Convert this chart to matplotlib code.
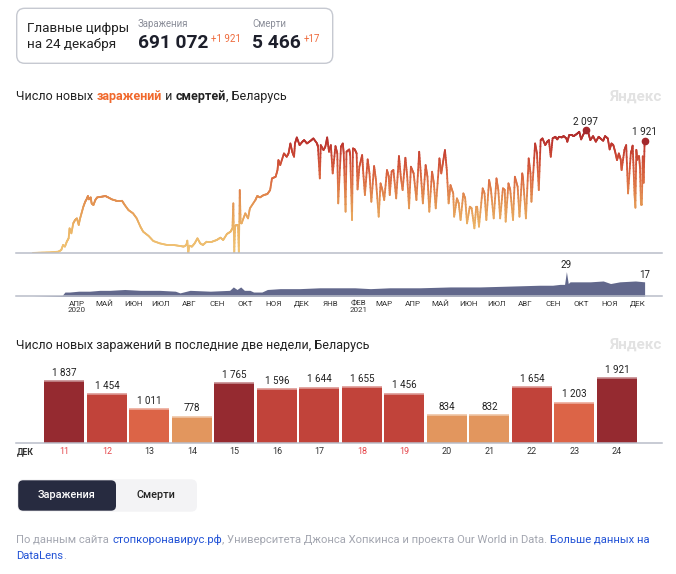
import numpy as np
import matplotlib
matplotlib.use('Agg')
import matplotlib.pyplot as plt
from matplotlib.collections import LineCollection
from matplotlib.colors import LinearSegmentedColormap, Normalize, to_rgb
from matplotlib.patches import FancyBboxPatch

plt.rcParams['font.family'] = ['Roboto', 'DejaVu Sans']

# new cases per day, read at the peaks and troughs; day 0 = 2020-02-28
case_day = [
    0, 8, 19, 28, 31, 33, 35, 37, 39, 40, 42, 44, 46, 48, 50, 51, 53, 55, 57, 59,
    60, 61, 63, 64, 66, 68, 70, 75, 79, 82, 86, 91, 97, 100, 104, 109, 113, 117, 120, 126,
    131, 138, 146, 153, 160, 164, 167, 168, 169, 170, 173, 176, 179, 182, 185, 189, 195, 200, 204, 207,
    211, 215, 217, 218, 219, 220, 222, 223, 224, 225, 226, 227, 231, 234, 236, 242, 244, 247, 251, 255,
    258, 260, 264, 266, 267, 269, 273, 276, 278, 280, 282, 284, 285, 287, 290, 293, 295, 298, 302, 305,
    309, 310, 312, 313, 316, 318, 320, 322, 324, 326, 329, 331, 332, 335, 337, 338, 340, 341, 344, 345,
    347, 348, 350, 352, 353, 355, 358, 359, 361, 364, 366, 368, 371, 373, 376, 378, 380, 382, 385, 387,
    388, 390, 392, 395, 398, 400, 402, 405, 407, 409, 411, 414, 417, 420, 422, 424, 427, 429, 431, 434,
    436, 438, 442, 444, 446, 448, 450, 452, 454, 457, 458, 461, 463, 465, 468, 470, 472, 475, 477, 480,
    482, 483, 485, 489, 491, 493, 496, 498, 501, 504, 506, 508, 511, 513, 514, 517, 519, 522, 524, 527,
    529, 532, 533, 536, 539, 541, 542, 546, 548, 550, 552, 554, 557, 559, 561, 563, 565, 568, 570, 572,
    575, 577, 580, 581, 583, 586, 588, 591, 594, 596, 598, 601, 604, 606, 609, 612, 615, 617, 620, 622,
    625, 627, 629, 631, 633, 635, 637, 639, 640, 643, 645, 647, 650, 651, 652, 653, 654, 655, 656, 657,
    658, 659, 660, 661, 662, 663, 664, 665]
case_val = [
    6, 11, 17, 28, 57, 142, 114, 199, 256, 426, 341, 511, 568, 596, 483, 568, 682, 795, 880, 937,
    977, 920, 954, 852, 824, 909, 954, 966, 977, 954, 920, 897, 897, 824, 738, 682, 596, 454, 369, 295,
    210, 170, 142, 142, 125, 114, 142, 216, 0, 130, 114, 170, 256, 170, 142, 199, 199, 227, 267, 227,
    329, 369, 426, 852, 0, 470, 483, 483, 0, 1079, 520, 511, 682, 596, 767, 909, 977, 954, 994, 1011,
    1079, 1278, 1306, 1420, 1590, 1505, 1704, 1647, 1704, 1874, 1732, 1647, 1874, 1977, 1846, 1903, 1931, 1874, 1920, 1960,
    1874, 1818, 1278, 1846, 1761, 1818, 1977, 1732, 1846, 1363, 1829, 1704, 852, 1818, 1874, 1704, 710, 1732, 1772, 1676,
    568, 1789, 1772, 1704, 1090, 1477, 1676, 1420, 994, 1602, 1363, 880, 1488, 1250, 625, 1193, 1079, 909, 1420, 1306,
    994, 1392, 1420, 937, 1659, 1306, 1079, 1630, 1306, 767, 1477, 1363, 909, 1732, 1306, 852, 1505, 1306, 710, 1392,
    1193, 767, 1619, 1363, 1562, 1761, 1420, 852, 1164, 1022, 625, 937, 852, 568, 1022, 937, 511, 795, 767, 426,
    795, 795, 454, 1108, 1022, 568, 1250, 1079, 596, 1278, 1079, 596, 1108, 1079, 540, 1193, 1079, 568, 1306, 1136,
    625, 1363, 1250, 596, 1619, 1363, 880, 1874, 1704, 1079, 1931, 1960, 1846, 1903, 1931, 1647, 1960, 1988, 1943, 1988,
    1977, 2000, 1960, 1903, 2016, 2016, 2000, 2033, 2073, 1943, 2016, 2097, 2045, 1931, 2000, 1903, 1988, 1960, 1920, 2000,
    1960, 1772, 1874, 1846, 1732, 1590, 1704, 1602, 1420, 1761, 1846, 1022, 1704, 1760, 1837, 1454, 1011, 778, 1765, 1596,
    1644, 1655, 1456, 834, 832, 1654, 1203, 1921]

# deaths per day
death_day = [0, 32, 35, 40, 50, 62, 73, 84, 100, 117, 138, 155, 160, 171, 193, 214, 218, 222, 226,
             230, 236, 240, 249, 255, 269, 290, 312, 334, 350, 367, 388, 421, 454, 486, 519, 551, 565,
             573, 578, 580, 582, 584, 606, 620, 628, 638, 655, 665]
death_val = [0, 1, 5, 5, 6, 6, 7, 7, 8, 7, 7, 6, 4, 7, 6, 7, 11, 8, 11,
             7, 7, 5, 5, 8, 9, 9, 10, 10, 10, 9, 10, 10, 11, 11, 12, 13, 13,
             14, 14, 29, 15, 17, 17, 18, 15, 17, 18, 17]

month_names = ['АПР', 'МАЙ', 'ИЮН', 'ИЮЛ', 'АВГ', 'СЕН', 'ОКТ', 'НОЯ', 'ДЕК', 'ЯНВ', 'ФЕВ',
               'МАР', 'АПР', 'МАЙ', 'ИЮН', 'ИЮЛ', 'АВГ', 'СЕН', 'ОКТ', 'НОЯ', 'ДЕК']
year_marks = {0: '2020', 10: '2021'}

bar_days = ['11', '12', '13', '14', '15', '16', '17', '18', '19', '20', '21', '22', '23', '24']
bar_vals = [1837, 1454, 1011, 778, 1765, 1596, 1644, 1655, 1456, 834, 832, 1654, 1203, 1921]
weekend = ['11', '12', '18', '19']

W, H = 676, 574
fig = plt.figure(figsize=(W / 100, H / 100), dpi=100)


def ax_at(x0, y0, x1, y1):
    return fig.add_axes([x0 / W, 1 - y1 / H, (x1 - x0) / W, (y1 - y0) / H])


def fmt(v):
    return f'{v:,}'.replace(',', ' ')


bg = fig.add_axes([0, 0, 1, 1], zorder=-1)
bg.set_xlim(0, W)
bg.set_ylim(H, 0)
bg.axis('off')
renderer = fig.canvas.get_renderer()


def runs(x, y, parts, size):
    for s, color, weight in parts:
        t = bg.text(x, y, s, color=color, fontweight=weight, fontsize=size,
                    va='center', ha='left')
        x += t.get_window_extent(renderer=renderer).width
    return x


DARK = '#222222'
GRID = '#b9bdc9'
XMIN, XMAX = -18.2, 683.9

# header card
bg.add_patch(FancyBboxPatch((16.7, 8.3), 316, 55, boxstyle='round,pad=0,rounding_size=8',
                            fc='white', ec='#c6c9d1', lw=1))
bg.text(27.3, 28.3, 'Главные цифры', fontsize=9.7, color=DARK, va='center')
bg.text(27.3, 44.3, 'на 24 декабря', fontsize=9.7, color=DARK, va='center')
bg.text(137.7, 24.0, 'Заражения', fontsize=6.9, color='#8b8e99', va='center')
bg.text(252.3, 24.0, 'Смерти', fontsize=6.9, color='#8b8e99', va='center')
x = runs(137.7, 43.0, [('691 072', '#1d1f2b', 'bold')], 13.8)
runs(x + 3, 39.0, [('+1 921', '#ee6a3c', 'normal')], 7.0)
x = runs(252.3, 43.0, [('5 466', '#1d1f2b', 'bold')], 13.8)
runs(x + 3, 39.0, [('+17', '#ee6a3c', 'normal')], 7.0)

# titles
runs(16.5, 96.7, [('Число новых ', DARK, 'normal'), ('заражений', '#f0692d', 'bold'),
                  (' и ', DARK, 'normal'), ('смертей', DARK, 'bold'),
                  (', Беларусь', DARK, 'normal')], 9.0)
bg.text(662, 96.7, 'Яндекс', fontsize=11, fontweight='bold', color='#e2e2e2', ha='right', va='center')
runs(16.5, 345, [('Число новых заражений в последние две недели, Беларусь', DARK, 'normal')], 9.0)
bg.text(662, 345, 'Яндекс', fontsize=11, fontweight='bold', color='#e2e2e2', ha='right', va='center')

# cases line with colour following the value
ax = ax_at(16, 110, 662, 253.3)
ax.set_xlim(XMIN, XMAX)
ax.set_ylim(0, 2445)
cmap = LinearSegmentedColormap.from_list('cases', [
    (0.0, '#f0c476'), (0.2, '#ecb566'), (0.42, '#e39352'), (0.6, '#dc6d43'),
    (0.75, '#cf4f37'), (0.9, '#be362e'), (1.0, '#ac2a2b')])
norm = Normalize(0, 2100)
xs = np.array(case_day, float)
ys = np.array(case_val, float)
t = np.linspace(0, 1, 9)
segs, cv = [], []
for i in range(len(xs) - 1):
    px = xs[i] + (xs[i + 1] - xs[i]) * t
    py = ys[i] + (ys[i + 1] - ys[i]) * t
    for k in range(len(t) - 1):
        segs.append([(px[k], py[k]), (px[k + 1], py[k + 1])])
        cv.append((py[k] + py[k + 1]) / 2)
lc = LineCollection(segs, colors=cmap(norm(np.array(cv))), linewidths=1.3,
                    capstyle='round', joinstyle='round')
ax.add_collection(lc)
imax = int(np.argmax(ys))
for j in (imax, len(ys) - 1):
    ax.plot(xs[j], ys[j], 'o', color='#a3282c', ms=4.5, zorder=5)
    ax.annotate(fmt(case_val[j]), (xs[j], ys[j]), xytext=(0, 2.5), textcoords='offset points',
                ha='center', va='bottom', fontsize=7.2, color=DARK)
for s in ['top', 'right', 'left']:
    ax.spines[s].set_visible(False)
ax.spines['bottom'].set_color(GRID)
ax.spines['bottom'].set_linewidth(1.1)
ax.set_xticks([])
ax.set_yticks([])
ax.patch.set_alpha(0)

# deaths area
axd = ax_at(16, 258, 662, 296.3)
axd.set_xlim(XMIN, XMAX)
axd.set_ylim(0, 45)
axd.fill_between(death_day, death_val, color='#62688c', lw=0)
dmax = int(np.argmax(death_val))
for j in (dmax, len(death_val) - 1):
    axd.annotate(str(death_val[j]), (death_day[j], death_val[j]), xytext=(0, 1.5),
                 textcoords='offset points', ha='center', va='bottom', fontsize=7,
                 color=DARK)
for s in ['top', 'right', 'left']:
    axd.spines[s].set_visible(False)
axd.spines['bottom'].set_color(GRID)
axd.spines['bottom'].set_linewidth(1.1)
axd.set_yticks([])
start = np.datetime64('2020-02-28')
mstarts = np.arange(np.datetime64('2020-04'), np.datetime64('2022-01'), dtype='datetime64[M]')
mpos = (mstarts.astype('datetime64[D]') - start).astype(int) + 15
mlabels = [m + ('\n' + year_marks[i] if i in year_marks else '') for i, m in enumerate(month_names)]
axd.set_xticks(mpos, mlabels)
axd.tick_params(axis='x', length=0, pad=3.3, labelsize=5.8, colors='#333333')
for lbl in axd.get_xticklabels():
    lbl.set_linespacing(0.95)
axd.patch.set_alpha(0)

# bars for the last two weeks
axb = ax_at(16, 360, 662, 443.3)
axb.set_xlim(-1.139, 14.06)
axb.set_ylim(0, 2457)


def bar_color(v):
    if v >= 1700:
        return '#952a30'
    if v >= 1400:
        return '#c1433a'
    if v >= 1000:
        return '#dc6447'
    return '#e2965e'


cols = [bar_color(v) for v in bar_vals]
idx = np.arange(len(bar_vals))
bars = axb.bar(idx, bar_vals, width=0.94, color=cols, lw=0)
light = [tuple(0.55 * np.array(to_rgb(c)) + 0.45) for c in cols]
axb.hlines(bar_vals, idx - 0.47, idx + 0.47, colors=light, lw=1.2)
axb.bar_label(bars, labels=[fmt(v) for v in bar_vals], padding=2.5, fontsize=7.1, color=DARK)
axb.set_xticks(idx, bar_days)
axb.tick_params(axis='x', length=0, pad=3, labelsize=6.5)
for lbl, d in zip(axb.get_xticklabels(), bar_days):
    lbl.set_color('#e5484d' if d in weekend else '#333333')
for s in ['top', 'right', 'left']:
    axb.spines[s].set_visible(False)
axb.spines['bottom'].set_color(GRID)
axb.spines['bottom'].set_linewidth(1.1)
axb.set_yticks([])
axb.patch.set_alpha(0)
bg.text(16.5, 452, 'ДЕК', fontsize=6.3, fontweight='bold', color='#333333', va='center')

# switch buttons
bg.add_patch(FancyBboxPatch((17.3, 479.3), 179.7, 32.4, boxstyle='round,pad=0,rounding_size=6',
                            fc='#f3f3f5', ec='none'))
bg.add_patch(FancyBboxPatch((18.2, 480.3), 97.8, 30.4, boxstyle='round,pad=0,rounding_size=5',
                            fc='#272b40', ec='none'))
bg.text(67, 495.5, 'Заражения', fontsize=7.8, color='white', ha='center', va='center', fontweight='medium')
bg.text(156, 495.5, 'Смерти', fontsize=7.8, color=DARK, ha='center', va='center', fontweight='medium')

# source note
GRAY, BLUE = '#a3a6b0', '#2152d6'
runs(16.5, 540, [('По данным сайта ', GRAY, 'normal'), ('стопкоронавирус.рф', BLUE, 'normal'),
                 (', Университета Джонса Хопкинса и проекта Our World in Data. ', GRAY, 'normal'),
                 ('Больше данных на', BLUE, 'normal')], 8.1)
runs(16.5, 556, [('DataLens', BLUE, 'normal'), ('.', GRAY, 'normal')], 8.1)

fig.savefig('out.png', dpi=100)
